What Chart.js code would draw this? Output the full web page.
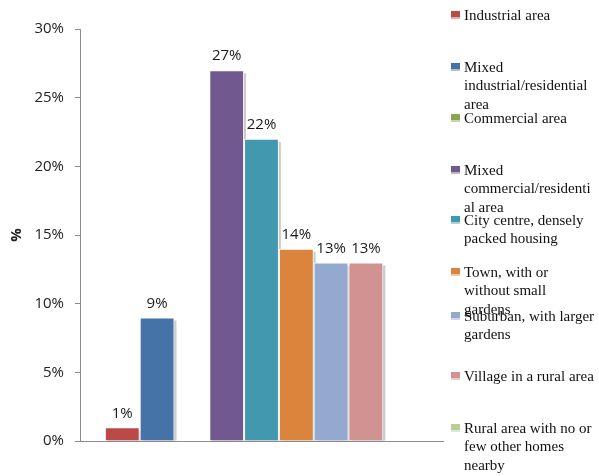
<!DOCTYPE html>
<html>
<head>
<meta charset="utf-8">
<title>Type of area</title>
<script src="https://cdn.jsdelivr.net/npm/chart.js@4.4.0/dist/chart.umd.min.js"></script>
<style>
  html, body { margin: 0; padding: 0; background: #fff; }
  #wrap { width: 599px; height: 476px; }
</style>
</head>
<body>
<div id="wrap"><canvas id="areaChart" width="599" height="476"></canvas></div>
<script>
// data
const categories = [""];
const seriesNames = [
  "Industrial area",
  "Mixed industrial/residential area",
  "Commercial area",
  "Mixed commercial/residential area",
  "City centre, densely packed housing",
  "Town, with or without small gardens",
  "Suburban, with larger gardens",
  "Village in a rural area",
  "Rural area with no or few other homes nearby",
];
// legend text wrapped like the original
const legendLines = [
  ["Industrial area"],
  ["Mixed", "industrial/residential", "area"],
  ["Commercial area"],
  ["Mixed", "commercial/residenti", "al area"],
  ["City centre, densely", "packed housing"],
  ["Town, with or", "without small", "gardens"],
  ["Suburban, with larger", "gardens"],
  ["Village in a rural area"],
  ["Rural area with no or", "few other homes", "nearby"],
];
const seriesValues = [1, 9, 0, 27, 22, 14, 13, 13, 0];
const seriesColors = ["#BA4A47", "#4572A7", "#89A54E", "#71588F", "#4198AF", "#DB843D", "#93A9CF", "#D19392", "#B9CD96"];
const yTickValues = [0, 5, 10, 15, 20, 25, 30];

// bar shadows, drawn before the bars so the next bar covers them
const barShadow = {
  id: "barShadow",
  beforeDatasetsDraw(chart) {
    const ctx = chart.ctx;
    ctx.save();
    ctx.fillStyle = "rgba(0,0,0,0.18)";
    ctx.shadowColor = "rgba(0,0,0,0.25)";
    ctx.shadowBlur = 3;
    chart.data.datasets.forEach((ds, i) => {
      const meta = chart.getDatasetMeta(i);
      meta.data.forEach((bar, j) => {
        if (!ds.data[j]) return;
        const left = bar.x - bar.width / 2;
        const h = bar.base - bar.y;
        if (h <= 4) return;
        ctx.fillRect(left + 3, bar.y + 3, bar.width - 1, h - 3);
      });
    });
    ctx.restore();
  },
};

// value labels on top of bars
const valueLabels = {
  id: "valueLabels",
  afterDatasetsDraw(chart) {
    const ctx = chart.ctx;
    ctx.save();
    ctx.font = "15px 'Open Sans', sans-serif";
    ctx.fillStyle = "#1a1a1a";
    ctx.textAlign = "center";
    ctx.textBaseline = "middle";
    chart.data.datasets.forEach((ds, i) => {
      const meta = chart.getDatasetMeta(i);
      meta.data.forEach((bar, j) => {
        const v = ds.data[j];
        if (!v) return;
        ctx.fillText(`${v}%`, bar.x, bar.y - 14);
      });
    });
    ctx.restore();
  },
};

// legend on the right with wrapped lines
const sideLegend = {
  id: "sideLegend",
  afterDraw(chart) {
    const ctx = chart.ctx;
    const rows = [16, 68, 119, 171, 221, 273, 317, 377, 429];
    const lineH = 18.5;
    ctx.save();
    ctx.font = "15px 'Liberation Serif', 'Times New Roman', serif";
    ctx.textBaseline = "middle";
    ctx.textAlign = "left";
    chart.data.datasets.forEach((ds, i) => {
      const y = rows[i];
      ctx.fillStyle = ds.backgroundColor;
      ctx.fillRect(451, y - 5, 9, 6);
      ctx.globalAlpha = 0.45;
      ctx.fillRect(451, y + 1, 9, 2);
      ctx.globalAlpha = 1;
      ctx.fillStyle = "#111";
      legendLines[i].forEach((line, k) => {
        ctx.fillText(line, 464, y + k * lineH);
      });
    });
    ctx.restore();
  },
};

new Chart(document.getElementById("areaChart"), {
  type: "bar",
  data: {
    labels: categories,
    datasets: seriesNames.map((name, i) => ({
      label: name,
      data: [seriesValues[i]],
      backgroundColor: seriesColors[i],
      borderColor: "#ffffff",
      borderWidth: 1,
      categoryPercentage: 0.863,
      barPercentage: 1,
    })),
  },
  options: {
    responsive: false,
    animation: false,
    layout: { padding: { top: 29, right: 156, bottom: 35, left: 0 } },
    plugins: {
      legend: { display: false },
      tooltip: { enabled: false },
    },
    scales: {
      x: {
        grid: { display: false },
        border: { display: true, color: "#8c8c8c", width: 1 },
        ticks: { display: false },
        afterFit: (s) => { s.height = 0; },
      },
      y: {
        min: 0,
        max: 30,
        afterBuildTicks: (s) => { s.ticks = yTickValues.map((v) => ({ value: v })); },
        ticks: {
          callback: (v) => `${v}%`,
          font: { family: "'Open Sans', sans-serif", size: 15 },
          color: "#222",
          padding: 11,
        },
        grid: { drawOnChartArea: false, drawTicks: true, tickLength: 5, color: "#8c8c8c" },
        border: { display: true, color: "#8c8c8c", width: 1 },
        title: {
          display: true,
          text: "%",
          font: { family: "'Open Sans', sans-serif", size: 15, weight: "bold" },
          color: "#222",
          padding: { top: 8, bottom: 0 },
        },
        afterFit: (s) => { s.width = 80; },
      },
    },
  },
  plugins: [barShadow, valueLabels, sideLegend],
});
</script>
</body>
</html>
